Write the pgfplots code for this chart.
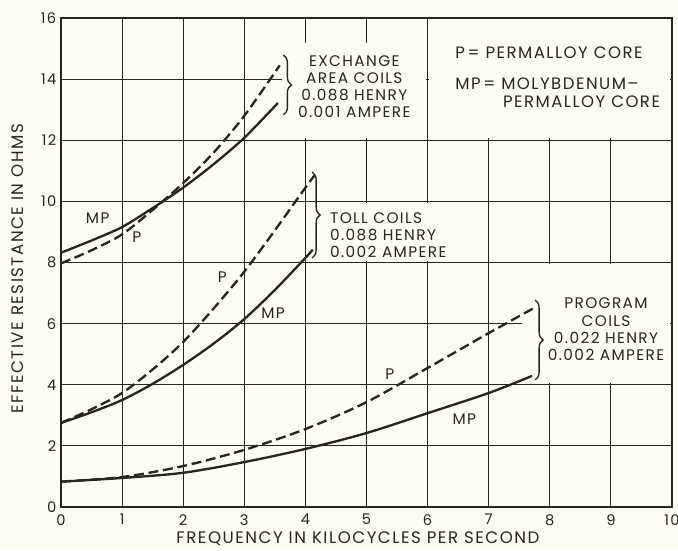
\documentclass[border=0pt]{standalone}
\usepackage{pgfplots}
\pgfplotsset{compat=1.18}
\usepackage{fontspec}
\setmainfont{Poppins}[LetterSpace=9]
\usetikzlibrary{decorations.pathreplacing}
\definecolor{ink}{RGB}{40,40,24}
\definecolor{paper}{RGB}{254,253,243}
\tikzset{
  solidc/.style={ink, line width=1.75pt, smooth, mark=none},
  dashc/.style={solidc, dash pattern=on 7.5pt off 3.5pt},
}

\begin{document}
\begin{tikzpicture}[x=1pt,y=1pt]
\fill[paper] (-45.75,-32.25) rectangle (462.75,380.25);
\useasboundingbox (-45.75,-32.25) rectangle (462.75,380.25);
\begin{axis}[
    at={(0,0)}, anchor=south west,
    scale only axis, width=458.25pt, height=366.75pt,
    xmin=0, xmax=10, ymin=0, ymax=16,
    xtick={0,1,...,10}, ytick={0,2,...,16},
    grid=major,
    major grid style={ink, line width=0.8pt},
    axis line style={ink, line width=1.4pt},
    major tick length=0pt,
    tick label style={font=\fontsize{11}{12}\selectfont, text=ink},
    /pgf/number format/assume math mode=true,
    xticklabel style={yshift=-2pt},
    label style={font=\fontsize{12.5}{14}\selectfont, text=ink},
    xlabel={FREQUENCY IN KILOCYCLES PER SECOND},
    ylabel={EFFECTIVE RESISTANCE IN OHMS},
    xlabel style={at={(axis description cs:0.486,-0.0654)}, anchor=center},
    ylabel style={at={(axis description cs:-0.0704,0.487)}, anchor=center},
    clip=false,
]
% white patches where the drawing left the grid out
\fill[paper] (axis cs:6.03,12.06) rectangle (axis cs:9.97,15.96);
\fill[paper] (axis cs:3.61,12.06) rectangle (axis cs:5.97,15.18);
\fill[paper] (axis cs:4.10,8.06) rectangle (axis cs:6.97,9.94);
\fill[paper] (axis cs:7.55,4.06) rectangle (axis cs:9.97,7.94);

% exchange area coils
\addplot[solidc] coordinates {(0,8.32) (0.5,8.72) (1,9.16) (1.5,9.78) (2,10.45) (2.5,11.22) (3,12.08) (3.55,13.22)};
\addplot[dashc] coordinates {(0,7.97) (0.5,8.4) (1,8.92) (1.5,9.72) (2,10.6) (2.5,11.6) (3,12.8) (3.58,14.45)};
% toll coils
\addplot[solidc] coordinates {(0,2.75) (0.5,3.1) (1,3.5) (1.5,4.03) (2,4.65) (2.5,5.35) (3,6.15) (3.5,7.1) (4,8.15) (4.12,8.42)};
\addplot[dashc] coordinates {(0,2.75) (0.5,3.2) (1,3.73) (1.5,4.5) (2,5.4) (2.5,6.5) (3,7.7) (3.5,9.05) (4,10.45) (4.15,10.85)};
% program coils
\addplot[solidc] coordinates {(0,0.83) (1,0.95) (2,1.12) (3,1.47) (4,1.9) (5,2.42) (6,3.07) (7,3.73) (7.71,4.29)};
\addplot[dashc] coordinates {(0,0.83) (1,0.98) (2,1.34) (3,1.87) (4,2.55) (5,3.43) (6,4.55) (7,5.69) (7.74,6.51)};

\begin{scope}[every node/.style={font=\fontsize{11.5}{12.75}\selectfont, text=ink, inner sep=0pt}]
\node at (axis cs:0.6,9.46) {MP};
\node at (axis cs:1.24,8.84) {P};
\node at (axis cs:2.64,7.53) {P};
\node at (axis cs:3.47,6.35) {MP};
\node at (axis cs:5.38,4.35) {P};
\node at (axis cs:6.6,2.88) {MP};

\node[align=center] at (axis cs:4.8,13.74) {EXCHANGE\\AREA COILS\\0.088 HENRY\\0.001 AMPERE};
\node[align=left, anchor=west] at (axis cs:4.4,8.9) {TOLL COILS\\0.088 HENRY\\0.002 AMPERE};
\node[align=center, font=\fontsize{11.5}{13.1}\selectfont] at (axis cs:8.92,5.81) {PROGRAM\\COILS\\0.022 HENRY\\0.002 AMPERE};
\end{scope}
\begin{scope}[every node/.style={font=\fontsize{12.4}{14}\selectfont, text=ink, inner sep=0pt, anchor=base west}]
\node at (axis cs:6.45,14.69) {P\,= PERMALLOY CORE};
\node at (axis cs:6.45,13.65) {MP\,= MOLYBDENUM--};
\node at (axis cs:7.23,13.06) {PERMALLOY CORE};
\end{scope}

\draw[ink, line width=1pt, decorate, decoration={brace, amplitude=6pt}] (axis cs:3.64,14.79) -- (axis cs:3.64,12.83);
\draw[ink, line width=1pt, decorate, decoration={brace, amplitude=6pt}] (axis cs:4.11,10.96) -- (axis cs:4.11,8.15);
\draw[ink, line width=1pt, decorate, decoration={brace, amplitude=6pt}] (axis cs:7.76,6.77) -- (axis cs:7.76,4.16);
\end{axis}
\end{tikzpicture}
\end{document}
